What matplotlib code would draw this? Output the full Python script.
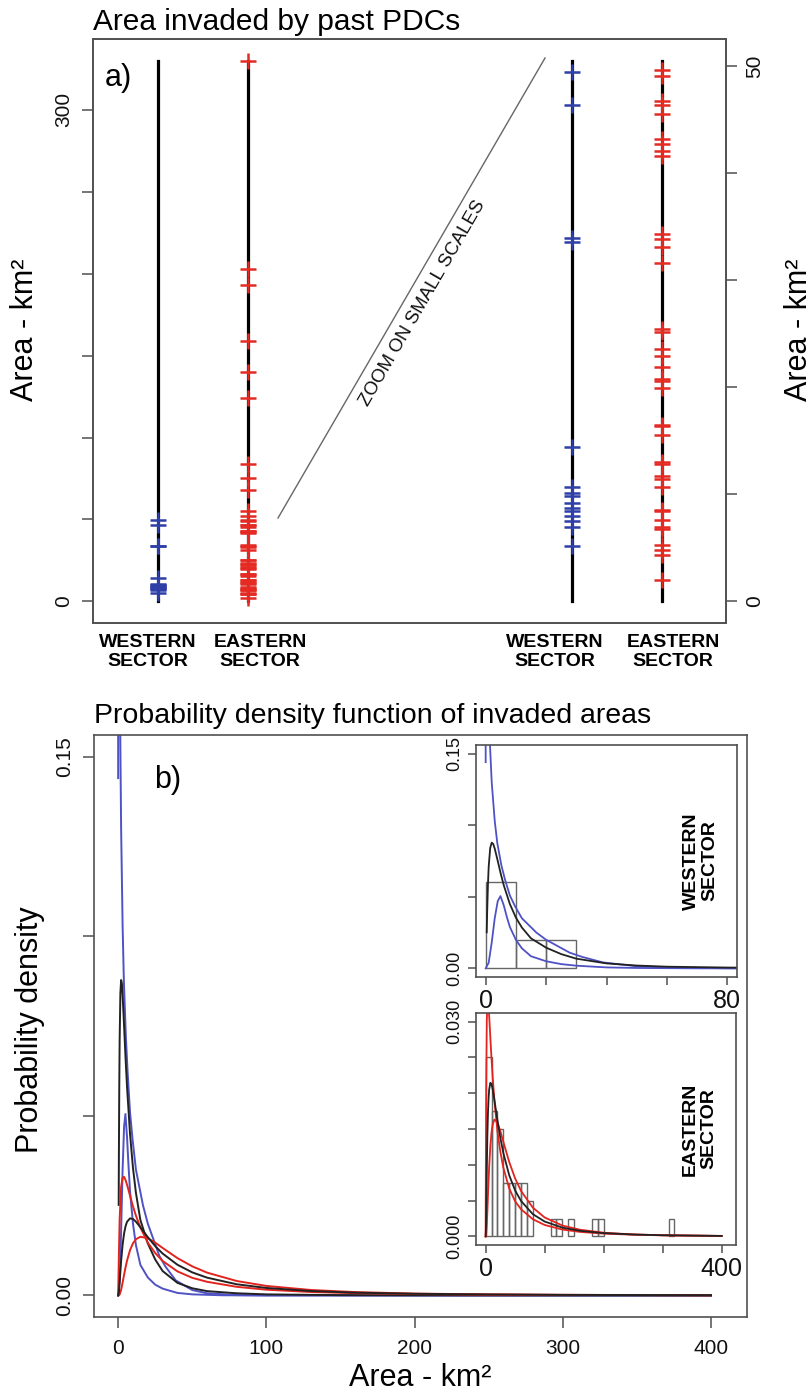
import matplotlib
matplotlib.use("Agg")
import matplotlib.pyplot as plt

plt.rcParams['font.family'] = ['Liberation Sans', 'DejaVu Sans']

# ---- panel a: invaded areas (km2) ----
western_areas = [49.4, 46.4, 33.9, 33.6, 14.4, 10.7, 10.1, 9.8, 9.2, 8.7, 8.4, 8.0, 7.5, 6.9, 5.2]
eastern_areas = [330, 203, 193, 159, 140, 124, 84, 75, 68, 55, 52,
                 49.6, 49.1, 46.7, 46.4, 45.5, 43.2, 42.7, 42.1, 41.6, 34.3, 33.8, 33.1, 31.6,
                 25.4, 25.2, 23.6, 22.9, 21.9, 20.8, 20.6, 19.9, 16.5, 16.4, 15.5, 13.0, 12.8,
                 11.7, 11.4, 10.7, 8.5, 8.4, 7.6, 6.9, 6.8, 5.3, 4.8, 4.3, 2.0]
full_max = 330
zoom_max = 50.5
sector_labels = ["WESTERN\nSECTOR", "EASTERN\nSECTOR"]

# ---- panel b: fitted densities ----
west_mid_x = [0.35, 0.5, 0.75, 1, 1.5, 2, 2.5, 3, 4, 5, 6, 8, 10, 12, 15, 20, 25, 30, 40, 50, 60, 80, 100, 150, 200, 300, 400]
west_mid_y = [0.0252, 0.0394, 0.0583, 0.0710, 0.0841, 0.0878, 0.0869, 0.0837, 0.0750, 0.0660, 0.0580, 0.0450,
              0.0355, 0.0285, 0.0210, 0.0145, 0.0100, 0.0068, 0.0035, 0.0020, 0.0012, 0.0006, 0.0003, 0.00008,
              0.00003, 0.000005, 0.0]
west_hi_x = [0, 0.02, 1.43, 2, 3, 3.85, 5.2, 6.4, 8, 9.7, 12, 16.8, 20, 27.8, 32, 38.8, 50, 60, 80, 100, 400]
west_hi_y = [0.144, 0.6, 0.156, 0.130, 0.103, 0.0875, 0.072, 0.062, 0.051, 0.0435, 0.035, 0.025, 0.020,
             0.011, 0.008, 0.0042, 0.0015, 0.0006, 0.0001, 0.00002, 0.0]
west_lo_x = [0, 1, 2, 3, 4, 4.9, 6, 7, 8, 10, 12, 15, 20, 25, 30, 40, 50, 70, 100, 400]
west_lo_y = [0.0, 0.004, 0.018, 0.035, 0.047, 0.0505, 0.044, 0.036, 0.0290, 0.0200, 0.0140, 0.0085, 0.0050,
             0.0030, 0.0019, 0.0007, 0.0003, 0.00005, 0.0, 0.0]

east_x = [0, 0.5, 1, 2, 3, 4, 5, 6, 8, 10, 12, 15, 20, 25, 30, 40, 50, 60, 80, 100, 130, 160, 200, 250, 300, 400]
east_mid_y = [0.0, 0.00098, 0.00369, 0.0096, 0.01416, 0.01726, 0.01928, 0.02051, 0.02145, 0.02128, 0.02053,
              0.01898, 0.01622, 0.01374, 0.01166, 0.00854, 0.00642, 0.00495, 0.00311, 0.00208, 0.00123,
              0.00078, 0.00046, 0.00027, 0.00016, 0.00007]
east_hi_y = [0.0, 0.0114, 0.0212, 0.0302, 0.0328, 0.0330, 0.0321, 0.0308, 0.0278, 0.0248, 0.0222, 0.0189,
             0.0147, 0.0118, 0.0096, 0.0067, 0.0049, 0.0038, 0.0024, 0.0016, 0.00096, 0.00063, 0.00039,
             0.00024, 0.00015, 0.00007]
east_lo_y = [0.0, 0.00005, 0.00025, 0.00156, 0.00357, 0.00576, 0.00784, 0.0097, 0.0126, 0.01451, 0.01565,
             0.01633, 0.01594, 0.0147, 0.01322, 0.01039, 0.0081, 0.00635, 0.00402, 0.00265, 0.00152,
             0.00093, 0.00052, 0.00027, 0.00016, 0.00006]

# histograms (bin left edges, density)
west_bins = [0, 10, 20]
west_dens = [0.06, 0.02, 0.02]
east_bins = [0, 10, 20, 30, 40, 50, 60, 70, 110, 120, 140, 180, 190, 310]
east_dens = [0.025, 0.0175, 0.015, 0.0075, 0.0075, 0.0075, 0.0075, 0.005, 0.0025, 0.0025, 0.0025,
             0.0025, 0.0025, 0.0025]

BLUE_PT = '#2f3fa8'
RED_PT = '#e42a22'
BLUE = '#4f52c4'
RED = '#e2241f'
FRAME = '#505050'


def fy(y):
    return 1 - y / 1395


def fx(x):
    return x / 808


def style(ax, size=15):
    for s in ax.spines.values():
        s.set_color(FRAME)
        s.set_linewidth(1.2)
    ax.tick_params(colors=FRAME, labelcolor='#111', labelsize=size, length=8, width=1.1)


def rotate_y(ax):
    for lab in ax.get_yticklabels():
        lab.set_rotation(90)
        lab.set_va('center')


fig = plt.figure(figsize=(8.08, 13.95), dpi=100)

# ================= panel a =================
ax = fig.add_axes([fx(93), fy(623), fx(726 - 93), (623 - 39) / 1395])
axr = ax.twinx()
pos = [1, 2, 5.6, 6.6]
for p in pos[:2]:
    ax.plot([p, p], [0, full_max], color='black', lw=2.3, zorder=1)
ax.plot([pos[0]] * len(western_areas), western_areas, '+', color=BLUE_PT, ms=11, mew=1.8)
ax.plot([pos[1]] * len(eastern_areas), eastern_areas, '+', color=RED_PT, ms=11, mew=1.8)
for p in pos[2:]:
    axr.plot([p, p], [0, zoom_max], color='black', lw=2.3, zorder=1)
w_small = [v for v in western_areas if v <= zoom_max]
e_small = [v for v in eastern_areas if v <= zoom_max]
axr.plot([pos[2]] * len(w_small), w_small, '+', color=BLUE_PT, ms=11, mew=1.8)
axr.plot([pos[3]] * len(e_small), e_small, '+', color=RED_PT, ms=11, mew=1.8)

ax.set_xlim(0.278, 7.31)
ax.set_ylim(-0.04 * full_max, 1.04 * full_max)
axr.set_ylim(-0.04 * zoom_max, 1.04 * zoom_max)
ax.set_xticks([])
ax.set_yticks(range(0, 301, 50))
ax.set_yticklabels(['0', '', '', '', '', '', '300'])
axr.set_yticks(range(0, 51, 10))
axr.set_yticklabels(['0', '', '', '', '', '50'])
for a in (ax, axr):
    style(a)
    rotate_y(a)
    a.tick_params(axis='y', pad=6)

ax.plot([0.2923, 0.7141], [0.1798, 0.9675], transform=ax.transAxes, color='#666', lw=1.0)
ax.text(0.5213, 0.5479, "ZOOM ON SMALL SCALES", transform=ax.transAxes, rotation=60,
        ha='center', va='center', fontsize=13.5, color='#111')

fig.text(fx(118), fy(78), "a)", fontsize=22, ha='center', va='center')
fig.text(fx(93), fy(30), "Area invaded by past PDCs", fontsize=21.5, ha='left', va='baseline')
fig.text(fx(25), fy(330), "Area - km²", fontsize=22, rotation=90, ha='center', va='center')
fig.text(fx(799), fy(330), "Area - km²", fontsize=22, rotation=90, ha='center', va='center')
for cx, lab in zip([148, 260, 555, 673], sector_labels * 2):
    fig.text(fx(cx), fy(652), lab, fontsize=14, fontweight='bold', ha='center', va='center',
             linespacing=1.1)

# ================= panel b =================
bx = fig.add_axes([fx(94), fy(1317), fx(747 - 94), (1317 - 735) / 1395])
bx.plot(west_hi_x, west_hi_y, color=BLUE, lw=1.4)
bx.plot(west_lo_x, west_lo_y, color=BLUE, lw=1.4)
bx.plot(west_mid_x, west_mid_y, color='#222', lw=1.4)
bx.plot(east_x, east_hi_y, color=RED, lw=1.4)
bx.plot(east_x, east_lo_y, color=RED, lw=1.4)
bx.plot(east_x, east_mid_y, color='#222', lw=1.4)
bx.set_xlim(-16.3, 424.3)
bx.set_ylim(-0.006, 0.156)
bx.set_xticks([0, 100, 200, 300, 400])
bx.set_yticks([0, 0.05, 0.10, 0.15])
bx.set_yticklabels(['0.00', '', '', '0.15'])
style(bx)
rotate_y(bx)
bx.tick_params(axis='y', pad=6)
bx.tick_params(axis='x', pad=8)

fig.text(fx(94), fy(723), "Probability density function of invaded areas", fontsize=20.5,
         ha='left', va='baseline')
fig.text(fx(168), fy(780), "b)", fontsize=22, ha='center', va='center')
fig.text(fx(30), fy(1030), "Probability density", fontsize=22, rotation=90, ha='center', va='center')
fig.text(fx(420), fy(1378), "Area - km²", fontsize=22, ha='center', va='center')

# western inset
iw = fig.add_axes([fx(476), fy(977), fx(737 - 476), (977 - 745) / 1395])
iw.bar(west_bins, west_dens, width=10, align='edge', fill=False, edgecolor='#666', lw=1.0)
iw.plot(west_hi_x, west_hi_y, color=BLUE, lw=1.3)
iw.plot(west_lo_x, west_lo_y, color=BLUE, lw=1.3)
iw.plot(west_mid_x, west_mid_y, color='#222', lw=1.3)
iw.set_xlim(-3.2, 83.2)
iw.set_ylim(-0.006, 0.156)
iw.set_xticks([0, 20, 40, 60, 80])
iw.set_xticklabels(['0', '', '', '', '80'])
iw.set_yticks([0, 0.05, 0.10, 0.15])
iw.set_yticklabels(['0.00', '', '', '0.15'])
iw.text(0.86, 0.5, "WESTERN\nSECTOR", transform=iw.transAxes, rotation=90, fontsize=14,
        fontweight='bold', ha='center', va='center', linespacing=1.1)

# eastern inset
ie = fig.add_axes([fx(476), fy(1245), fx(736 - 476), (1245 - 1013) / 1395])
ie.bar(east_bins, east_dens, width=10, align='edge', fill=False, edgecolor='#666', lw=1.0)
ie.plot(east_x, east_hi_y, color=RED, lw=1.3)
ie.plot(east_x, east_lo_y, color=RED, lw=1.3)
ie.plot(east_x, east_mid_y, color='#222', lw=1.3)
ie.set_xlim(-16.3, 424.3)
ie.set_ylim(-0.0012, 0.0312)
ie.set_xticks([0, 100, 200, 300, 400])
ie.set_xticklabels(['0', '', '', '', '400'])
ie.set_yticks([0, 0.005, 0.01, 0.015, 0.02, 0.025, 0.03])
ie.set_yticklabels(['0.000', '', '', '', '', '', '0.030'])
ie.text(0.86, 0.5, "EASTERN\nSECTOR", transform=ie.transAxes, rotation=90, fontsize=14,
        fontweight='bold', ha='center', va='center', linespacing=1.1)

for a in (iw, ie):
    style(a, size=13)
    a.tick_params(length=6)
    a.tick_params(axis='x', labelsize=18, pad=3)
    a.tick_params(axis='y', pad=3)
    rotate_y(a)

fig.savefig("out.png", dpi=100)
